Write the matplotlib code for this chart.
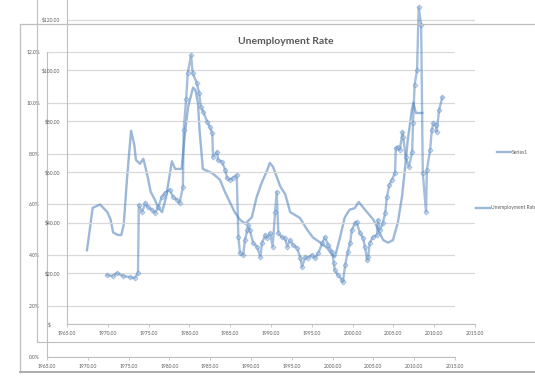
import matplotlib
matplotlib.use("Agg")
import matplotlib.pyplot as plt
from matplotlib.lines import Line2D
from matplotlib.ticker import FuncFormatter, MultipleLocator

# ---------------- data ----------------
# Series1 (marker series, $ axis)
oil_years = [1969.9, 1970.6, 1971.1, 1971.9, 1972.7, 1973.3, 1973.7, 1973.8, 1974.2, 1974.6,
             1974.9, 1975.4, 1975.8, 1976.2, 1976.6, 1977.0, 1977.6, 1978.0, 1978.5, 1978.8,
             1979.2, 1979.3, 1979.6, 1979.8, 1980.2, 1980.4, 1980.9, 1981.2, 1981.4, 1981.7,
             1982.2, 1982.5, 1982.8, 1982.9, 1983.4, 1983.5, 1984.0, 1984.4, 1984.6, 1985.0,
             1985.3, 1985.8, 1986.0, 1986.2, 1986.6, 1986.8, 1987.1, 1987.2, 1987.4, 1987.8,
             1988.3, 1988.7, 1988.9, 1989.3, 1989.5, 1989.9, 1990.2, 1990.5, 1990.7, 1990.9,
             1991.3, 1991.7, 1992.0, 1992.3, 1992.7, 1993.2, 1993.6, 1993.8, 1994.2, 1994.5,
             1995.0, 1995.4, 1995.8, 1996.3, 1996.6, 1997.0, 1997.5, 1997.7, 1997.8, 1998.2,
             1998.7, 1998.8, 1999.1, 1999.4, 1999.7, 1999.9, 2000.3, 2000.5, 2000.9, 2001.3,
             2001.5, 2001.8, 2001.9, 2002.1, 2002.5, 2003.0, 2003.1, 2003.4, 2003.7, 2004.0,
             2004.2, 2004.5, 2004.8, 2005.2, 2005.3, 2005.6, 2005.8, 2006.1, 2006.2, 2006.5,
             2006.9, 2007.3, 2007.4, 2007.6, 2007.9, 2008.1, 2008.4, 2008.6, 2009.0, 2009.1,
             2009.5, 2009.7, 2009.9, 2010.2, 2010.3, 2010.6, 2011.0]
oil_values = [19.3, 18.9, 20.1, 18.9, 18.5, 18.1, 20.1, 46.9, 44.2, 47.7,
              46.2, 45.0, 43.8, 46.2, 50.1, 51.7, 52.9, 50.1, 48.9, 47.7,
              54.0, 76.5, 88.8, 99.0, 106.0, 99.0, 95.0, 91.0, 85.6, 83.6,
              79.7, 77.7, 75.3, 65.9, 67.9, 64.7, 63.9, 60.7, 57.6, 56.8,
              57.6, 58.8, 34.3, 28.0, 27.2, 33.1, 37.1, 39.0, 37.1, 32.0,
              30.4, 26.4, 32.0, 35.1, 33.9, 35.9, 30.4, 44.2, 52.1, 35.9,
              34.3, 33.9, 30.4, 33.1, 31.2, 30.0, 26.0, 22.5, 26.4, 26.0,
              27.2, 26.0, 28.0, 32.0, 34.3, 31.2, 28.4, 24.1, 21.3, 19.3,
              17.4, 16.6, 23.3, 28.4, 32.0, 37.1, 39.8, 40.2, 35.9, 33.9,
              30.4, 25.2, 26.4, 32.0, 34.3, 35.1, 41.0, 37.1, 39.8, 43.8,
              50.1, 54.8, 56.8, 59.6, 69.4, 69.8, 68.6, 75.7, 73.8, 65.9,
              61.9, 67.9, 79.3, 94.3, 100.2, 125.0, 118.0, 59.6, 44.2, 60.7,
              68.6, 76.5, 79.3, 78.5, 75.7, 84.4, 89.5]

# Unemployment Rate (line series, % axis)
unemp_years = [1969.9, 1970.6, 1971.5, 1972.4, 1972.8, 1973.1, 1973.7, 1974.1, 1974.4, 1974.8,
               1975.3, 1975.7, 1975.9, 1976.4, 1976.8, 1977.0, 1977.4, 1977.7, 1978.2, 1978.6,
               1979.1, 1979.6, 1980.3, 1980.7, 1981.5, 1981.9, 1982.3, 1982.9, 1983.2, 1983.5,
               1983.7, 1984.1, 1985.2, 1985.5, 1986.2, 1986.8, 1987.4, 1988.0, 1988.65, 1989.3,
               1990.1, 1990.7, 1991.3, 1992.0, 1992.3, 1992.7, 1993.6, 1994.2, 1994.8, 1996.0,
               1996.9, 1997.6, 1998.5, 1999.3, 2000.0, 2000.3, 2000.9, 2001.5, 2002.1, 2002.7,
               2003.2, 2003.7, 2004.3, 2005.0, 2005.6, 2006.2, 2006.8, 2007.4, 2008.0, 2008.5,
               2008.9, 2009.2, 2009.7, 2009.9, 2010.2, 2011.0]
unemp_pct = [4.2, 5.87, 6.0, 5.7, 5.4, 4.9, 4.8, 4.8, 5.2, 7.0,
             8.9, 8.35, 7.75, 7.6, 7.8, 7.55, 7.0, 6.5, 6.2, 5.9,
             5.7, 6.3, 7.7, 7.4, 7.4, 8.8, 9.85, 10.6, 10.5, 10.0,
             8.9, 7.4, 7.24, 7.17, 6.97, 6.5, 6.1, 5.7, 5.4, 5.24,
             5.5, 6.3, 6.85, 7.36, 7.64, 7.48, 6.7, 6.4, 5.7, 5.47,
             5.0, 4.7, 4.5, 4.3, 4.0, 3.94, 4.7, 5.5, 5.8, 5.85,
             6.1, 5.9, 5.67, 5.4, 5.0, 4.6, 4.5, 4.6, 5.3, 6.3,
             7.5, 8.5, 9.7, 10.0, 9.6, 9.6]

x_ticks = [1965, 1970, 1975, 1980, 1985, 1990, 1995, 2000, 2005, 2010, 2015]
dollar_ticks = [0, 20, 40, 60, 80, 100, 120]
pct_ticks = [0, 2, 4, 6, 8, 10, 12]
title = "Unemployment Rate"
legend_a = "Series1"
legend_b = "Unemployment Rate"

# ---------------- style ----------------
plt.rcParams['font.family'] = ['Lato', 'DejaVu Sans']
W, H = 535, 382
fig = plt.figure(figsize=(W / 100, H / 100), dpi=100)
fig.patch.set_facecolor('white')

GRID = '#d9d9d9'
FRAME = '#bfbfbf'
TXT = '#595959'
BLUE = '#4a7ebb'


def ax_at(x0, y0, x1, y1):
    return fig.add_axes([x0 / W, 1 - y1 / H, (x1 - x0) / W, (y1 - y0) / H])


def fline(xs, ys, **kw):
    fig.add_artist(Line2D([x / W for x in xs], [1 - y / H for y in ys],
                          transform=fig.transFigure, **kw))


# frames
fline([37, 37], [-5, 342], color=FRAME, lw=0.8)
fline([37, 540], [342, 342], color=FRAME, lw=0.8)
fline([20, 20], [24, 372], color=FRAME, lw=0.9)
fline([20, 540], [24, 24], color=FRAME, lw=0.9)
fline([20, 540], [372, 372], color='#a6a6a6', lw=1.3)


def style(ax):
    ax.set_facecolor('none')
    ax.patch.set_alpha(0)
    for s in ('top', 'right'):
        ax.spines[s].set_visible(False)
    ax.spines['left'].set_color(FRAME)
    ax.spines['bottom'].set_color(FRAME)
    ax.spines['left'].set_linewidth(0.8)
    ax.spines['bottom'].set_linewidth(0.8)
    ax.grid(axis='y', color=GRID, lw=0.9)
    ax.set_axisbelow(True)
    ax.set_xlim(1965, 2015)
    ax.set_xticks(x_ticks)
    ax.xaxis.set_major_formatter(FuncFormatter(lambda v, p: f"{v:.2f}"))
    ax.tick_params(axis='x', length=2, width=0.6, color=FRAME, labelsize=3.6,
                   labelcolor=TXT, pad=3)
    ax.tick_params(axis='y', length=0, labelsize=3.6, labelcolor=TXT, pad=5)


# ---- chart B (outer, % axis, line) ----
axB = ax_at(47, 52, 455, 357)
style(axB)
axB.set_ylim(0, 12)
axB.set_yticks(pct_ticks)
axB.yaxis.set_major_formatter(FuncFormatter(lambda v, p: f"{v:.1f}%"))
axB.plot(unemp_years, unemp_pct, color=BLUE, lw=1.7, alpha=0.55, solid_joinstyle='round')

# ---- chart A (inner, $ axis, markers) ----
axA = ax_at(67, -31, 475, 324)
style(axA)
axA.set_ylim(0, 140)
axA.set_yticks(dollar_ticks)
axA.yaxis.set_major_formatter(FuncFormatter(lambda v, p: "$       " if v == 0 else f"${v:.2f}"))
axA.plot(oil_years, oil_values, color=BLUE, lw=1.7, alpha=0.5, marker='D',
         markersize=2.6, markerfacecolor='#9dbbe0', markeredgecolor=BLUE,
         markeredgewidth=0.5)

# title
fig.text(286 / W, 1 - 41 / H, title, ha='center', va='center', fontsize=7.5,
         fontweight='bold', color=TXT)

# legends
fline([497, 511], [152, 152], color=BLUE, lw=1.7, alpha=0.55)
fig.text(512 / W, 1 - 152 / H, legend_a, ha='left', va='center', fontsize=3.6, color=TXT)
fline([476, 490], [208, 208], color=BLUE, lw=1.7, alpha=0.55)
fig.text(491 / W, 1 - 208 / H, legend_b, ha='left', va='center', fontsize=3.6, color=TXT)

fig.savefig('out.png', dpi=100)
